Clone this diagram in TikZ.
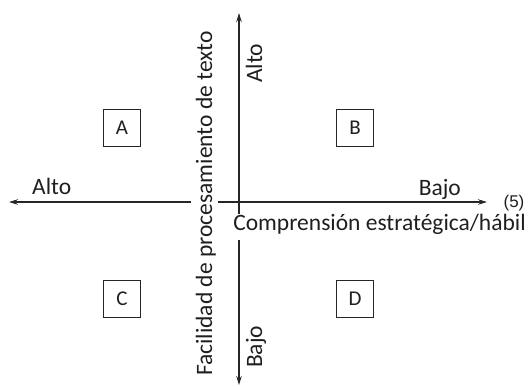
\documentclass[tikz,border=0pt]{standalone}
\usepackage{fontspec}
\setmainfont{Carlito}
\newfontfamily\numfont{Liberation Sans}
\usetikzlibrary{arrows.meta}
\begin{document}
\begin{tikzpicture}[x=1pt,y=-1pt,
  lbl/.style={font=\fontsize{23.5}{28}\selectfont, inner sep=0pt, text=black!88},
  quad/.style={draw=black!85, line width=1.1pt, minimum size=37pt, inner sep=0pt,
    font=\fontsize{21}{25}\selectfont, text=black!88},
  axis/.style={draw=black!85, line width=1.1pt, -{Stealth[length=9pt,width=5.5pt]}}]
\useasboundingbox (0,0) rectangle (530,386);

% quadrant boxes
\node[quad] (A) at (122,128) {A};
\node[quad] (B) at (355,128) {B};
\node[quad] (C) at (122,299) {C};
\node[quad] (D) at (355,299) {D};

% axis labels
\node[lbl, anchor=base west] (altoH) at (32,194) {Alto};
\node[lbl, anchor=base east] (bajoH) at (461,195) {Bajo};
\node[lbl, font=\numfont\fontsize{17}{20}\selectfont] (num) at (514,203) {(5)};
\node[lbl, anchor=base] (comp) at (379.5,230) {Comprensión estratégica/hábil};
\node[lbl, rotate=90, anchor=base west] (altoV) at (262,83) {Alto};
\node[lbl, rotate=90, anchor=base west] (bajoV) at (262,368) {Bajo};
\node[lbl, rotate=90, anchor=base] (fac) at (212,203.5) {Facilidad de procesamiento de texto};

% axis end points and gaps around the titles
\coordinate (hl) at (9,202);
\coordinate (hr) at (487,202);
\coordinate (hgapL) at (191,202);
\coordinate (hgapR) at (218,202);
\coordinate (vt) at (239,13);
\coordinate (vb) at (239,385);
\coordinate (vgapT) at (239,214);
\coordinate (vgapB) at (239,240);

\draw[axis] (hgapL) -- (hl);
\draw[axis] (hgapR) -- (hr);
\draw[axis] (vgapT) -- (vt);
\draw[axis] (vgapB) -- (vb);
\end{tikzpicture}
\end{document}
